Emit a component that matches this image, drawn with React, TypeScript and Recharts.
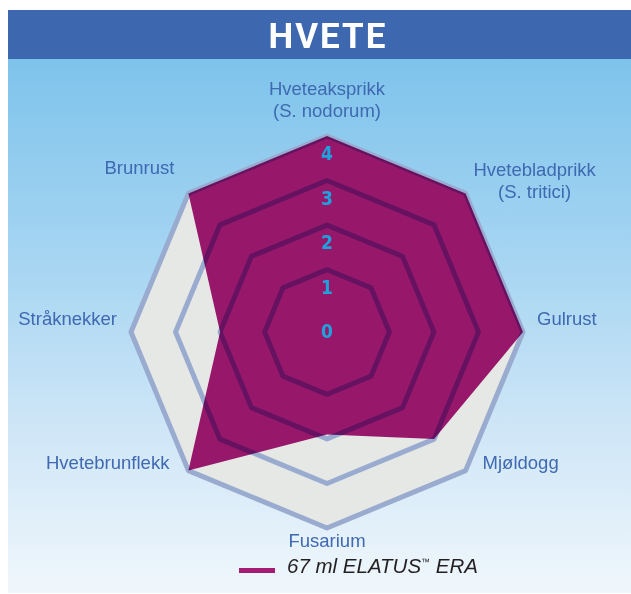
import React from 'react';
import { RadarChart, Radar, PolarAngleAxis, PolarRadiusAxis, Legend } from 'recharts';

// ---- data ----
const categories = [
  'Hveteaksprikk\n(S. nodorum)',
  'Hvetebladprikk\n(S. tritici)',
  'Gulrust',
  'Mjøldogg',
  'Fusarium',
  'Hvetebrunflekk',
  'Stråknekker',
  'Brunrust',
];
const elatusValues = [4, 4, 4, 3, 1.9, 4, 2, 4];
const maxValues = [4, 4, 4, 4, 4, 4, 4, 4];
const radiusTicks = [0, 1, 2, 3, 4];
const gridValues = [1, 2, 3];
const seriesName = '67 ml ELATUS™ ERA';
const title = 'HVETE';

const data = categories.map((c, i) => {
  const row: any = { name: c, elatus: elatusValues[i], maks: maxValues[i] };
  gridValues.forEach((g) => {
    row['ring' + g] = g;
  });
  return row;
});

// ---- layout ----
const W = 623;
const H = 583;
const CX = 319;
const CY = 322;
const OUTER = 196;
const DOMAIN_MIN = -0.4;
const DOMAIN_MAX = 4;

const labelLayout = [
  { dx: 0, dy: -48, anchor: 'middle' },
  { dx: 69, dy: -24, anchor: 'middle' },
  { dx: 14, dy: -14, anchor: 'start' },
  { dx: 17, dy: -8, anchor: 'start' },
  { dx: 0, dy: 12, anchor: 'middle' },
  { dx: -19, dy: -8, anchor: 'end' },
  { dx: -14, dy: -14, anchor: 'end' },
  { dx: -14, dy: -26, anchor: 'end' },
];

const LABEL_COLOR = '#3f69b1';
const GRID_COLOR = '#9aabd0';
const FONT = "'Liberation Sans', Arial, Helvetica, sans-serif";

const AngleTick = (props: any) => {
  const { payload, index } = props;
  const i = typeof index === 'number' ? index : payload?.index ?? 0;
  const ang = ((payload?.coordinate ?? 90) * Math.PI) / 180;
  const vx = CX + OUTER * Math.cos(ang);
  const vy = CY - OUTER * Math.sin(ang);
  const lay = labelLayout[i] || { dx: 0, dy: 0, anchor: 'middle' };
  const lines = String(payload?.value ?? '').split('\n');
  return (
    <text
      x={vx + lay.dx}
      y={vy + lay.dy}
      textAnchor={lay.anchor as any}
      fill={LABEL_COLOR}
      fontFamily={FONT}
      fontSize={18.5}
    >
      {lines.map((l, k) => (
        <tspan key={k} x={vx + lay.dx} dy={k === 0 ? 0 : 22} dominantBaseline="central">
          {l}
        </tspan>
      ))}
    </text>
  );
};

const RadiusTick = (props: any) => {
  const { x, y, payload } = props;
  return (
    <text
      x={x}
      y={y + 17}
      textAnchor="middle"
      dominantBaseline="central"
      fill="#1ea2de"
      fontFamily="'Liberation Sans Narrow', 'DejaVu Sans Condensed', 'Roboto', sans-serif"
      fontWeight="bold"
      fontSize={19}
    >
      {payload.value}
    </text>
  );
};

const [namePart, tailPart] = seriesName.split('™');

const LegendContent = () => (
  <div style={{ position: 'relative', width: 260, height: 30 }}>
    <div style={{ position: 'absolute', left: 0, top: 18, width: 36, height: 5, background: '#a51c74' }} />
    <div
      style={{
        position: 'absolute',
        left: 48,
        top: 0,
        fontFamily: FONT,
        fontStyle: 'italic',
        fontSize: 20.5,
        color: '#231f20',
        whiteSpace: 'nowrap',
        lineHeight: '24px',
      }}
    >
      {namePart}
      <span style={{ fontSize: 9, verticalAlign: 8 }}>™</span>
      {tailPart}
    </div>
  </div>
);

export default function App() {
  return (
    <div style={{ position: 'absolute', left: 8, top: 10, width: W, height: H, overflow: 'hidden' }}>
      <div
        style={{
          position: 'absolute',
          left: 0,
          top: 0,
          width: W,
          height: H,
          background:
            'linear-gradient(to bottom, #3d67ae 0px, #3d67ae 49px, #7ec3eb 49px, #a6d5f2 250px, #cfe6f7 420px, #f0f7fc 583px)',
        }}
      />
      <div
        style={{
          position: 'absolute',
          left: CX - 100,
          top: 0,
          width: 200,
          height: 49,
          display: 'flex',
          alignItems: 'center',
          justifyContent: 'center',
          color: '#ffffff',
          fontFamily: "Roboto, 'Liberation Sans', sans-serif",
          fontWeight: 700,
          fontSize: 35,
          letterSpacing: 2,
          paddingTop: 3,
          paddingLeft: 2,
          boxSizing: 'border-box',
        }}
      >
        {title}
      </div>
      <div style={{ position: 'absolute', left: 0, top: 0 }}>
        <RadarChart
          width={W}
          height={H}
          data={data}
          cx={CX}
          cy={CY}
          outerRadius={OUTER}
          startAngle={90}
          endAngle={-270}
          margin={{ top: 0, right: 0, bottom: 0, left: 0 }}
        >
          <Radar
            dataKey="maks"
            fill="#e6e8e6"
            fillOpacity={1}
            stroke={GRID_COLOR}
            strokeWidth={5}
            strokeLinejoin="round"
            legendType="none"
            isAnimationActive={false}
          />
          {gridValues.map((g) => (
            <Radar
              key={g}
              dataKey={'ring' + g}
              fill="none"
              fillOpacity={0}
              stroke={GRID_COLOR}
              strokeWidth={5}
              strokeLinejoin="round"
              legendType="none"
              isAnimationActive={false}
            />
          ))}
          <Radar
            name={seriesName}
            dataKey="elatus"
            fill="#a81a76"
            fillOpacity={1}
            stroke="none"
            style={{ mixBlendMode: 'multiply' }}
            isAnimationActive={false}
          />
          <PolarAngleAxis dataKey="name" tick={<AngleTick />} tickLine={false} axisLine={false} />
          <PolarRadiusAxis
            angle={90}
            domain={[DOMAIN_MIN, DOMAIN_MAX]}
            ticks={radiusTicks as any}
            tick={<RadiusTick />}
            axisLine={false}
            tickLine={false}
          />
          <Legend
            content={<LegendContent />}
            wrapperStyle={{ position: 'absolute', left: 231, top: 540, width: 260 }}
          />
        </RadarChart>
      </div>
    </div>
  );
}
